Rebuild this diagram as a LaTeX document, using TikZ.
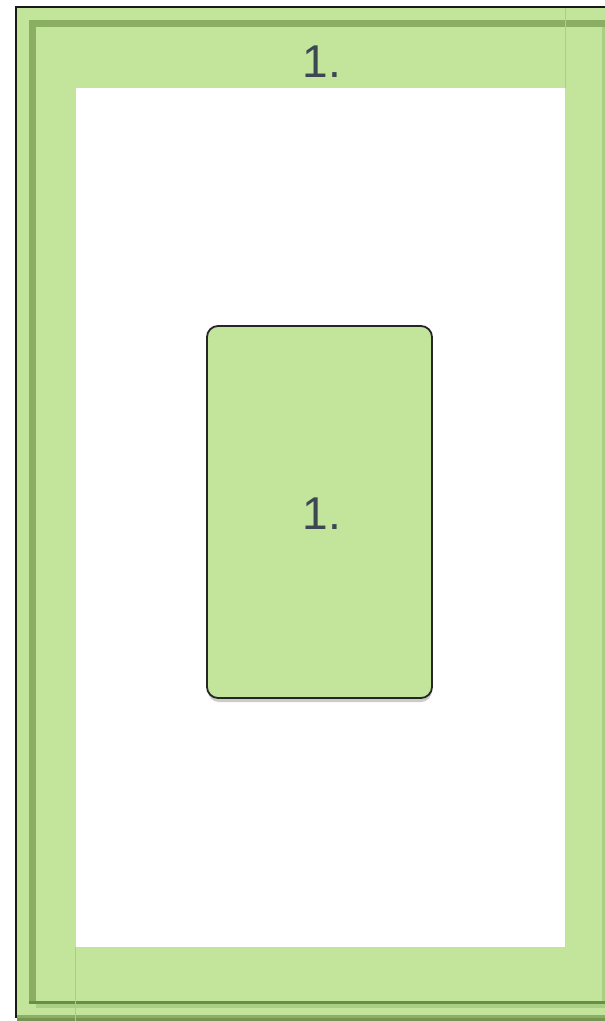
\documentclass[tikz,border=0pt]{standalone}
\usepackage{fontspec}
\setmainfont{Liberation Sans}
\definecolor{gfill}{HTML}{C2E59B}
\definecolor{gdark}{HTML}{8AAF62}
\definecolor{gdarker}{HTML}{6A8F43}
\definecolor{gmid}{HTML}{A8CF84}
\definecolor{txt}{HTML}{3D4754}
\begin{document}
\begin{tikzpicture}[x=1pt,y=-1pt,
  lbl/.style={text=txt,font=\fontsize{46}{52}\selectfont,inner sep=0pt},
  card/.style={fill=gfill,draw=black!85,line width=1.8pt,rounded corners=11pt,minimum width=225pt,minimum height=372pt,inner sep=0pt}]
\useasboundingbox (0,0) rectangle (605,1021);
\fill[white] (0,0) rectangle (605,1021);
% outer green frame
\fill[gfill] (17,8) rectangle (605,1021);
\fill[gdark] (29,20) rectangle (605,27);
\fill[gdark] (29,20) rectangle (36,1004);
\fill[gmid] (602,27) rectangle (605,1001);
\fill[gdarker] (29,1001) rectangle (605,1004);
\fill[gmid] (36,1004) rectangle (605,1008);
\fill[gdark] (17,1015) rectangle (605,1018);
\fill[gdark!85!black] (17,1018) rectangle (605,1021);
\fill[black!90] (15,6) rectangle (17,1018);
\fill[black!90] (15,6) rectangle (605,8);
% inner white area
\fill[white] (76,88) rectangle (565,947);
\draw[gmid,line width=0.8pt] (565,8) -- (565,88);
\draw[gmid,line width=0.8pt] (75.5,947) -- (75.5,1021);
\node[lbl] (title) at (322,62) {1.};
% card
\fill[black!20,rounded corners=11pt] (208,330) rectangle (432,702);
\node[card] (box) at (319.5,512) {};
\node[lbl] (boxlabel) at (322,514) {1.};
\end{tikzpicture}
\end{document}
